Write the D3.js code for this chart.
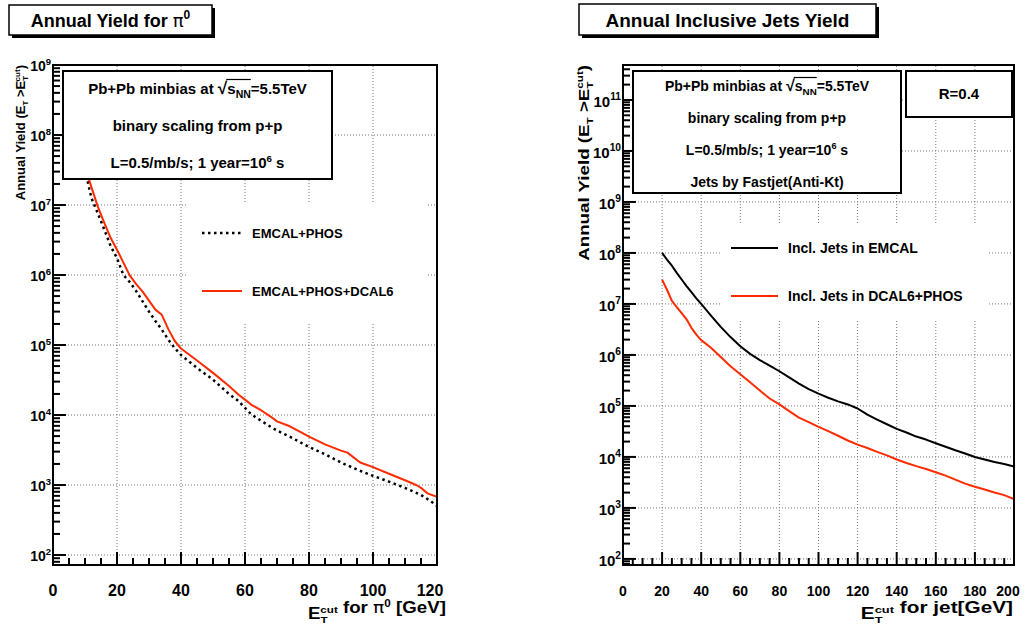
<!DOCTYPE html>
<html>
<head>
<meta charset="utf-8">
<script src="https://cdn.jsdelivr.net/npm/d3@7"></script>
<style>
  html, body { margin: 0; padding: 0; background: #fff; }
  svg { display: block; }
  text { font-family: "Liberation Sans", Arial, Helvetica, sans-serif; font-weight: bold; fill: #000; }
</style>
</head>
<body>
<svg id="chart" width="1031" height="633"></svg>
<script>
// ---- pi0 annual yield above E_T cut (Pb+Pb, 5.5 TeV) ----
const pi0Et = [10, 12, 14, 16, 18, 20, 22, 24, 26, 28, 30, 32, 34, 36, 38, 40, 45, 50, 55, 58, 60, 62, 65, 68, 70, 74, 78, 80, 85, 90, 92, 96, 100, 105, 110, 113.5, 115, 117, 120];
const pi0EmcalPhosDcal = [3.5e7, 1.8e7, 9.5e6, 5.6e6, 3.4e6, 2.3e6, 1.5e6, 9.8e5, 7.4e5, 5.8e5, 4.3e5, 3.2e5, 2.7e5, 1.7e5, 1.15e5, 8.9e4, 6.0e4, 4.0e4, 2.6e4, 1.95e4, 1.66e4, 1.4e4, 1.17e4, 9.5e3, 8.1e3, 6.9e3, 5.5e3, 4.9e3, 3.8e3, 3.1e3, 2.9e3, 2.1e3, 1.8e3, 1.45e3, 1.17e3, 1.0e3, 9.1e2, 7.6e2, 6.8e2];
const pi0EtB = [10, 12, 14, 16, 18, 20, 22, 24, 26, 28, 30, 32, 34, 36, 38, 40, 45, 50, 55, 58, 60, 62, 65, 68, 70, 74, 80, 85, 90, 95, 100, 105, 110, 115, 118, 120];
const pi0EmcalPhos = [3.2e7, 1.26e7, 7.6e6, 4.5e6, 2.6e6, 1.74e6, 1.0e6, 7.9e5, 5.9e5, 4.2e5, 3.0e5, 2.2e5, 1.66e5, 1.2e5, 9.1e4, 7.2e4, 4.7e4, 3.2e4, 2.0e4, 1.58e4, 1.26e4, 1.02e4, 8.3e3, 6.8e3, 6.0e3, 4.9e3, 3.5e3, 2.75e3, 2.1e3, 1.66e3, 1.35e3, 1.12e3, 9.1e2, 7.2e2, 5.9e2, 5.0e2];

// ---- inclusive jet annual yield above E_T cut (anti-kt, R=0.4) ----
const jetEt = [20, 22.5, 25, 27.5, 30, 32.5, 35, 37.5, 40, 45, 50, 55, 60, 65, 70, 75, 80, 85, 90, 95, 100, 105, 110, 115, 120, 125, 130, 135, 140, 145, 150, 155, 160, 165, 170, 175, 180, 185, 190, 195, 200];
const jetEmcal = [1.0e8, 7.41e7, 5.62e7, 4.07e7, 3.02e7, 2.24e7, 1.70e7, 1.29e7, 1.0e7, 5.89e6, 3.55e6, 2.24e6, 1.48e6, 1.05e6, 7.94e5, 6.17e5, 4.79e5, 3.63e5, 2.75e5, 2.14e5, 1.74e5, 1.45e5, 1.23e5, 1.07e5, 8.91e4, 6.76e4, 5.37e4, 4.37e4, 3.55e4, 3.02e4, 2.51e4, 2.19e4, 1.86e4, 1.58e4, 1.35e4, 1.17e4, 1.0e4, 8.91e3, 7.94e3, 7.24e3, 6.46e3];
const jetDcalPhos = [3.0e7, 1.9e7, 1.15e7, 8.7e6, 6.6e6, 5.0e6, 3.4e6, 2.5e6, 1.95e6, 1.38e6, 9.1e5, 6.0e5, 4.2e5, 2.9e5, 2.0e5, 1.4e5, 1.07e5, 7.9e4, 5.9e4, 4.8e4, 3.9e4, 3.2e4, 2.6e4, 2.1e4, 1.74e4, 1.5e4, 1.26e4, 1.07e4, 8.9e3, 7.6e3, 6.6e3, 5.8e3, 5.0e3, 4.3e3, 3.6e3, 3.0e3, 2.6e3, 2.3e3, 2.0e3, 1.78e3, 1.5e3];

// ---- axis tick values ----
const pi0XTicks = [0, 20, 40, 60, 80, 100, 120];
const jetXTicks = [0, 20, 40, 60, 80, 100, 120, 140, 160, 180, 200];
const pi0Decades = [2, 3, 4, 5, 6, 7, 8, 9];
const jetDecades = [2, 3, 4, 5, 6, 7, 8, 9, 10, 11];

// ---- text ----
const pi0Info = ["binary scaling from p+p", "L=0.5/mb/s; 1 year=10^6 s"];
const jetInfo = ["binary scaling from p+p", "L=0.5/mb/s; 1 year=10^6 s", "Jets by Fastjet(Anti-Kt)"];
const pi0Legend = ["EMCAL+PHOS", "EMCAL+PHOS+DCAL6"];
const jetLegend = ["Incl. Jets in EMCAL", "Incl. Jets in DCAL6+PHOS"];

const RED = "#ff2b00";
const svg = d3.select("#chart");

// Boxed title with a drop shadow
function titleBox(x, y, w, h, size, build) {
  svg.append("rect").attr("x", x + 3).attr("y", y + 3).attr("width", w).attr("height", h).attr("fill", "#000");
  svg.append("rect").attr("x", x).attr("y", y).attr("width", w).attr("height", h)
    .attr("fill", "#fff").attr("stroke", "#000").attr("stroke-width", 1.5);
  const t = svg.append("text").attr("x", x + w / 2).attr("y", y + h - 8)
    .attr("text-anchor", "middle").attr("font-size", size);
  build(t);
}

// "E" with stacked subscript T and superscript "cut"
function etCut(t, size) {
  t.append("tspan").text("E");
  t.append("tspan").attr("font-size", size * 0.62).attr("dy", size * 0.25).text("T");
  t.append("tspan").attr("font-size", size * 0.62).attr("dx", -size * 0.38).attr("dy", -size * 0.62).text("cut");
  t.append("tspan").attr("dy", size * 0.37).text("");
}

function yTitle(x, yTop, size, stretch) {
  const t = svg.append("text").attr("transform", `translate(${x},${yTop}) rotate(-90) scale(${stretch},1)`)
    .attr("text-anchor", "end").attr("font-size", size);
  t.append("tspan").text("Annual Yield (E");
  t.append("tspan").attr("font-size", size * 0.62).attr("dy", size * 0.25).text("T");
  t.append("tspan").attr("dy", -size * 0.25).text(" >E");
  t.append("tspan").attr("font-size", size * 0.62).attr("dy", size * 0.25).text("T");
  t.append("tspan").attr("font-size", size * 0.62).attr("dx", -size * 0.38).attr("dy", -size * 0.62).text("cut");
  t.append("tspan").attr("dy", size * 0.37).text(")");
}

// Info box inside the frame
function infoBox(x, y, w, h, size, firstGap, lineGap, lines) {
  svg.append("rect").attr("x", x).attr("y", y).attr("width", w).attr("height", h)
    .attr("fill", "#fff").attr("stroke", "#000").attr("stroke-width", 2);
  const cx = x + w / 2;
  let by = y + firstGap;
  // first line carries the sqrt(s_NN) notation
  const t = svg.append("text").attr("x", cx).attr("y", by).attr("text-anchor", "middle").attr("font-size", size);
  t.append("tspan").text("Pb+Pb minbias at ");
  t.append("tspan").attr("font-size", size * 1.15).text("\u221a");
  t.append("tspan").text("s");
  t.append("tspan").attr("font-size", size * 0.7).attr("dy", size * 0.25).text("NN");
  t.append("tspan").attr("dy", -size * 0.25).text("=5.5TeV");
  const node = t.node();
  const n0 = "Pb+Pb minbias at ".length;
  const a = node.getExtentOfChar(n0);
  const b = node.getExtentOfChar(n0 + 3);
  svg.append("line").attr("x1", a.x + a.width - 1).attr("x2", b.x + b.width)
    .attr("y1", a.y + 1.5).attr("y2", a.y + 1.5).attr("stroke", "#000").attr("stroke-width", 1.2);
  lines.forEach((s) => {
    by += lineGap;
    const l = svg.append("text").attr("x", cx).attr("y", by).attr("text-anchor", "middle").attr("font-size", size);
    const m = s.match(/^(.*)\^(\d+)(.*)$/);
    if (m) {
      l.append("tspan").text(m[1]);
      l.append("tspan").attr("font-size", size * 0.65).attr("dy", -size * 0.4).text(m[2]);
      l.append("tspan").attr("dy", size * 0.4).text(m[3]);
    } else l.text(s);
  });
}

function panel(cfg) {
  const { x, y } = cfg;
  const [x0, x1] = x.range();
  const [y0, y1] = y.range(); // y0 bottom, y1 top
  const g = svg.append("g");

  // dotted grid
  const grid = g.append("g").attr("stroke", "#777").attr("stroke-width", 1).attr("stroke-dasharray", "1,2");
  cfg.xTicks.filter((v) => v > x.domain()[0] && v < x.domain()[1]).forEach((v) => {
    grid.append("line").attr("x1", x(v)).attr("x2", x(v)).attr("y1", y0).attr("y2", y1);
  });
  cfg.decades.forEach((d) => {
    const v = Math.pow(10, d);
    if (v > y.domain()[0] && v < y.domain()[1])
      grid.append("line").attr("x1", x0).attr("x2", x1).attr("y1", y(v)).attr("y2", y(v));
  });

  // curves
  const clip = "clip" + cfg.id;
  svg.append("clipPath").attr("id", clip).append("rect")
    .attr("x", x0).attr("y", y1).attr("width", x1 - x0).attr("height", y0 - y1);
  cfg.series.forEach((s) => {
    const line = d3.line().x((d) => x(d[0])).y((d) => y(d[1]));
    g.append("path").attr("clip-path", `url(#${clip})`)
      .attr("d", line(d3.zip(s.et, s.values)))
      .attr("fill", "none").attr("stroke", s.color).attr("stroke-width", s.width)
      .attr("stroke-dasharray", s.dash || null).attr("stroke-linejoin", "round");
  });

  // legend (white fill, no border)
  const lg = cfg.legend;
  g.append("rect").attr("x", lg.x).attr("y", lg.y).attr("width", lg.w).attr("height", lg.h).attr("fill", "#fff");
  cfg.series.forEach((s, i) => {
    const ly = lg.rows[i];
    g.append("line").attr("x1", lg.sx0).attr("x2", lg.sx1).attr("y1", ly).attr("y2", ly)
      .attr("stroke", s.color).attr("stroke-width", s.width).attr("stroke-dasharray", s.dash || null);
    g.append("text").attr("x", lg.tx).attr("y", ly + lg.size * 0.38).attr("font-size", lg.size).text(s.label);
  });

  // x axis ticks (inward) and labels
  const ax = g.append("g").attr("stroke", "#000").attr("stroke-width", 2);
  const xd = x.domain();
  for (let v = xd[0]; v <= xd[1] + 1e-9; v += cfg.xMinorStep) {
    const major = cfg.xTicks.includes(v);
    ax.append("line").attr("x1", x(v)).attr("x2", x(v)).attr("y1", y0).attr("y2", y0 - (major ? 13 : 7));
  }
  cfg.xTicks.forEach((v, i) => {
    const last = i === cfg.xTicks.length - 1;
    g.append("text").attr("x", x(v) + (last ? cfg.lastShift : 0)).attr("y", y0 + 31)
      .attr("text-anchor", "middle").attr("font-size", cfg.xLabelSize).text(v);
  });

  // y axis log ticks (inward) and labels
  const [ymin, ymax] = y.domain();
  for (let d = Math.floor(Math.log10(ymin)); d <= Math.ceil(Math.log10(ymax)); d++) {
    for (let m = 1; m <= 9; m++) {
      const v = m * Math.pow(10, d);
      if (v < ymin || v > ymax * 1.0001) continue;
      ax.append("line").attr("x1", x0).attr("x2", x0 + (m === 1 ? 13 : 7)).attr("y1", y(v)).attr("y2", y(v));
    }
  }
  cfg.decades.forEach((d) => {
    const v = Math.pow(10, d);
    const t = g.append("text").attr("x", x0 - 2).attr("y", y(v) + cfg.yLabelSize * 0.45)
      .attr("text-anchor", "end").attr("font-size", cfg.yLabelSize);
    t.append("tspan").text("10");
    t.append("tspan").attr("font-size", cfg.yLabelSize * 0.68).attr("dy", -cfg.yLabelSize * 0.45).text(d);
  });

  // frame
  g.append("rect").attr("x", x0).attr("y", y1).attr("width", x1 - x0).attr("height", y0 - y1)
    .attr("fill", "none").attr("stroke", "#000").attr("stroke-width", 2);
}

// x-axis title, right-aligned at the frame end and widened horizontally
function xTitle(xRight, yBase, size, stretch, build) {
  const t = svg.append("text").attr("transform", `translate(${xRight},${yBase}) scale(${stretch},1)`)
    .attr("text-anchor", "end").attr("font-size", size);
  build(t);
}

// ---------- left panel: pi0 ----------
const xPi0 = d3.scaleLinear().domain([0, 120]).range([53, 437]);
const yPi0 = d3.scaleLog().domain([72, 1e9]).range([565, 65]);
panel({
  id: "pi0", x: xPi0, y: yPi0, xTicks: pi0XTicks, xMinorStep: 5, decades: pi0Decades,
  xLabelSize: 16, yLabelSize: 14, lastShift: -7,
  series: [
    { et: pi0EtB, values: pi0EmcalPhos, color: "#000", width: 2.5, dash: "2.5,3.5", label: pi0Legend[0] },
    { et: pi0Et, values: pi0EmcalPhosDcal, color: RED, width: 2, label: pi0Legend[1] }
  ],
  legend: { x: 188, y: 204, w: 240, h: 118, rows: [233, 291], sx0: 202, sx1: 242, tx: 252, size: 13 }
});
infoBox(63, 71, 269, 108, 15, 23, 37, pi0Info);
titleBox(9, 5, 203, 30, 18, (t) => {
  t.append("tspan").text("Annual Yield for ");
  t.append("tspan").attr("font-family", "DejaVu Sans").attr("font-weight", "normal").text("\u03c0");
  t.append("tspan").attr("font-size", 12).attr("dy", -8).text("0");
});
yTitle(25, 65, 13, 1);
xTitle(446, 619, 16, 1.17, (t) => {
  etCut(t, 16);
  t.append("tspan").text(" for ");
  t.append("tspan").attr("font-family", "DejaVu Sans").attr("font-weight", "normal").text("\u03c0");
  t.append("tspan").attr("font-size", 10).attr("dy", -6).text("0");
  t.append("tspan").attr("dy", 6).text(" [GeV]");
});

// ---------- right panel: jets ----------
const xJet = d3.scaleLinear().domain([0, 200]).range([623, 1014]);
const yJet = d3.scaleLog().domain([76, 4.85e11]).range([565, 65]);
panel({
  id: "jet", x: xJet, y: yJet, xTicks: jetXTicks, xMinorStep: 5, decades: jetDecades,
  xLabelSize: 14, yLabelSize: 15, lastShift: -6,
  series: [
    { et: jetEt, values: jetEmcal, color: "#000", width: 2, label: jetLegend[0] },
    { et: jetEt, values: jetDcalPhos, color: RED, width: 2, label: jetLegend[1] }
  ],
  legend: { x: 720, y: 223, w: 268, h: 97, rows: [248, 296], sx0: 731, sx1: 778, tx: 788, size: 14 }
});
infoBox(633, 71, 268, 122, 14, 20, 32, jetInfo);
svg.append("rect").attr("x", 906).attr("y", 71).attr("width", 106).attr("height", 46)
  .attr("fill", "#fff").attr("stroke", "#000").attr("stroke-width", 2);
svg.append("text").attr("x", 959).attr("y", 99).attr("text-anchor", "middle").attr("font-size", 15).text("R=0.4");
titleBox(579, 4, 297, 31, 19, (t) => t.text("Annual Inclusive Jets Yield"));
yTitle(589, 65, 15, 1.25);
xTitle(1013, 619, 16, 1.3, (t) => {
  etCut(t, 16);
  t.append("tspan").text(" for jet[GeV]");
});
</script>
</body>
</html>
